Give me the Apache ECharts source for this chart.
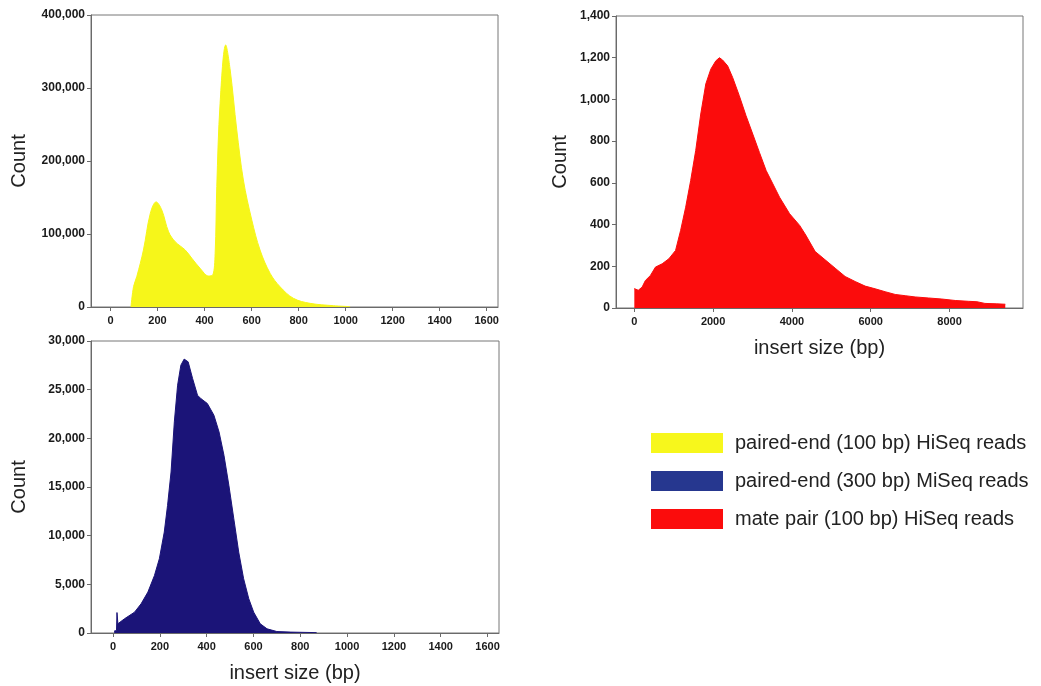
<!DOCTYPE html>
<html>
<head>
<meta charset="utf-8">
<script src="https://cdn.jsdelivr.net/npm/echarts@6/dist/echarts.min.js"></script>
<style>
html,body{margin:0;padding:0;background:#fff;}
#c{width:1041px;height:686px;}
</style>
</head>
<body>
<div id="c"></div>
<script>
// ---- data (insert size bp, count) ----
const hiseqPE_bp    = [87, 98, 112, 140, 169, 194, 218, 247, 275, 318, 346, 381, 417, 435, 445, 452, 466, 490, 509, 537, 565, 601, 636, 679, 721, 778, 849, 948, 1019];
const hiseqPE_count = [0, 28000, 42000, 78000, 128000, 144000, 133000, 103000, 89500, 78000, 66700, 53000, 42500, 43800, 73500, 165000, 279000, 359000, 324700, 242500, 174000, 119000, 78000, 46000, 27800, 11900, 5000, 1800, 500];

const miseqPE_bp    = [5, 15, 17, 21, 49, 92, 120, 149, 177, 198, 219, 233, 248, 262, 276, 290, 304, 321, 340, 361, 375, 403, 431, 453, 474, 495, 516, 537, 558, 580, 601, 629, 658, 700, 760, 870];
const miseqPE_count = [200, 250, 2100, 950, 1460, 2140, 3000, 4200, 5900, 7630, 10370, 13100, 16540, 21690, 25460, 27520, 28140, 27860, 26150, 24430, 24090, 23580, 22380, 20660, 18260, 15170, 11750, 8310, 5580, 3520, 2140, 950, 430, 150, 90, 40];

const hiseqMP_bp    = [0, 100, 197, 281, 409, 536, 707, 877, 1047, 1175, 1303, 1430, 1558, 1686, 1814, 1941, 2069, 2160, 2240, 2368, 2496, 2664, 2835, 3006, 3175, 3346, 3517, 3686, 3941, 4196, 4350, 4589, 4843, 5097, 5351, 5605, 5859, 6113, 6367, 6621, 6875, 7129, 7467, 7806, 8145, 8483, 8696, 8900, 9200, 9415];
const hiseqMP_count = [93, 85, 100, 132, 156, 196, 212, 236, 276, 372, 483, 611, 755, 930, 1074, 1145, 1185, 1200, 1189, 1161, 1105, 1018, 922, 834, 746, 659, 595, 531, 452, 396, 350, 271, 231, 191, 151, 127, 105, 92, 78, 65, 59, 53, 48, 43, 36, 32, 30, 22, 20, 18];

const seriesNames = ['paired-end (100 bp) HiSeq reads', 'paired-end (300 bp) MiSeq reads', 'mate pair (100 bp) HiSeq reads'];
const ticksShort = [0, 200, 400, 600, 800, 1000, 1200, 1400, 1600];
const ticksLong  = [0, 2000, 4000, 6000, 8000];
const xName = 'insert size (bp)';
const yName = 'Count';

function pairs(xs, ys){ return xs.map((x,i)=>[x, ys[i]]); }

const FONT = '"Liberation Sans", Arial, sans-serif';
const AX = '#6a6a6a';

function xAxis(gi, min, max, ticks, name){
  return {
    type: 'value', gridIndex: gi, min: min, max: max,
    name: name || '', nameLocation: 'middle', nameGap: 30,
    nameTextStyle: {fontSize: 20, fontFamily: FONT, color: '#222'},
    axisLine: {show: true, onZero: false, lineStyle: {color: AX, width: 1}},
    axisTick: {show: true, length: 4, customValues: ticks, lineStyle: {color: AX}},
    axisLabel: {customValues: ticks, fontSize: 11, fontWeight: 'bold', fontFamily: FONT, color: '#1a1a1a', margin: 8,
      formatter: v => String(v)},
    splitLine: {show: false}
  };
}
function yAxis(gi, max, interval, gap){
  return {
    type: 'value', gridIndex: gi, min: 0, max: max, interval: interval,
    name: yName, nameLocation: 'middle', nameGap: gap, nameRotate: 90,
    nameTextStyle: {fontSize: 20, fontFamily: FONT, color: '#222'},
    axisLine: {show: true, onZero: false, lineStyle: {color: AX, width: 1}},
    axisTick: {show: true, length: 4, lineStyle: {color: AX}},
    axisLabel: {fontSize: 12, fontWeight: 'bold', fontFamily: FONT, color: '#1a1a1a', margin: 6,
      formatter: v => v.toLocaleString('en-US')},
    splitLine: {show: false}
  };
}
function areaSeries(name, data, color, xi, yi, smooth){
  return {
    name: name, type: 'line', xAxisIndex: xi, yAxisIndex: yi, data: data,
    smooth: smooth, showSymbol: false, symbol: 'none',
    lineStyle: {color: color, width: 1}, itemStyle: {color: color},
    areaStyle: {color: color, opacity: 1}, animation: false
  };
}

const gridBase = {show: true, borderColor: '#777', borderWidth: 1, backgroundColor: 'transparent', containLabel: false, outerBoundsMode: 'none'};

const chart = echarts.init(document.getElementById('c'), null, {renderer: 'canvas'});
chart.setOption({
  animation: false,
  backgroundColor: '#fff',
  grid: [
    Object.assign({left: 91, top: 15, width: 407, height: 292}, gridBase),
    Object.assign({left: 616, top: 16, width: 407, height: 292}, gridBase),
    Object.assign({left: 91, top: 341, width: 408, height: 292}, gridBase)
  ],
  xAxis: [
    xAxis(0, -83, 1648, ticksShort, ''),
    xAxis(1, -465, 9865, ticksLong, xName),
    xAxis(2, -94, 1649, ticksShort, xName)
  ],
  yAxis: [
    yAxis(0, 400000, 100000, 62),
    yAxis(1, 1400, 200, 46),
    yAxis(2, 30000, 5000, 62)
  ],
  legend: {
    orient: 'vertical', left: 651, top: 433, padding: 0, itemWidth: 72, itemHeight: 20, itemGap: 18,
    icon: 'rect', selectedMode: false,
    textStyle: {fontSize: 20, fontFamily: FONT, color: '#222', padding: [0, 0, 0, 7]},
    data: [
      {name: seriesNames[0], itemStyle: {color: '#f7f71c'}},
      {name: seriesNames[1], itemStyle: {color: '#26378f'}},
      {name: seriesNames[2], itemStyle: {color: '#fb0c0c'}}
    ]
  },
  series: [
    areaSeries(seriesNames[0], pairs(hiseqPE_bp, hiseqPE_count), '#f6f61a', 0, 0, 0.35),
    areaSeries(seriesNames[1], pairs(miseqPE_bp, miseqPE_count), '#1b1478', 2, 2, false),
    areaSeries(seriesNames[2], pairs(hiseqMP_bp, hiseqMP_count), '#fb0c0c', 1, 1, false)
  ]
});
</script>
</body>
</html>
